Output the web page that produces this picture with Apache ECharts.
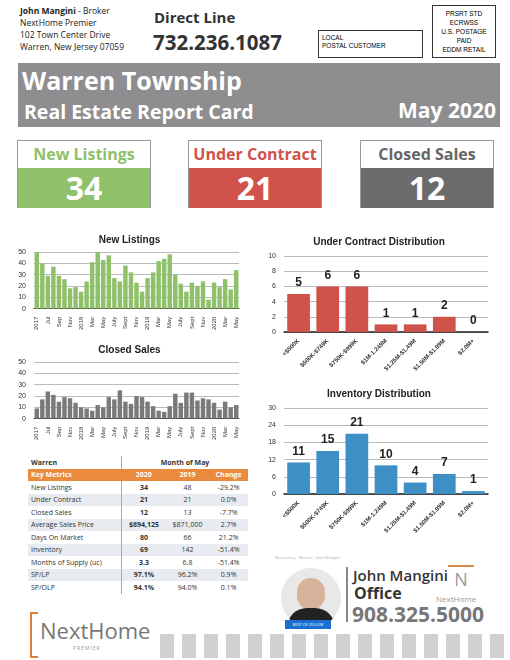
<!DOCTYPE html>
<html><head><meta charset="utf-8">
<script src="https://cdn.jsdelivr.net/npm/echarts@6/dist/echarts.min.js"></script>
<style>
body{margin:0;width:510px;height:660px;position:relative;font-family:"Open Sans",sans-serif;background:#fff;overflow:hidden}
.a{position:absolute}
.box{position:absolute;width:134px;height:68px;top:140px;border:1px solid #999;box-sizing:border-box}
.box .t{height:27px;background:#fff;text-align:center;font-size:16px;font-weight:700;line-height:27px}
.box .n{height:40px;color:#fff;text-align:center;font-size:32px;font-weight:700;line-height:40px}
table{border-collapse:collapse;font-size:7px;width:220px}
td{padding:0 3px;height:12.5px;color:#333}
</style></head><body>
<div class="a" style="left:20px;top:5px;font-size:8.5px;line-height:12px;color:#222"><b>John Mangini</b> - Broker<br>NextHome Premier<br>102 Town Center Drive<br>Warren, New Jersey 07059</div>
<div class="a" style="left:154px;top:7px;font-size:15px;font-weight:700;color:#333">Direct Line</div>
<div class="a" style="left:153px;top:28px;font-size:20.5px;font-weight:700;color:#333">732.236.1087</div>
<div class="a" style="left:318px;top:30px;width:105px;height:28px;border:1px solid #333;font-size:6.5px;font-family:Arial,sans-serif;padding:3px;box-sizing:border-box;line-height:8px">LOCAL<br>POSTAL CUSTOMER</div>
<div class="a" style="left:432px;top:5px;width:64px;height:53px;border:1px solid #333;font-size:6.5px;font-family:Arial,sans-serif;text-align:center;padding-top:3px;box-sizing:border-box;line-height:9px">PRSRT STD<br>ECRWSS<br>U.S. POSTAGE<br>PAID<br>EDDM RETAIL</div>
<div class="a" style="left:18px;top:63px;width:482px;height:64px;background:#8e8e90"></div>
<div class="a" style="left:22px;top:63px;font-size:25px;font-weight:700;color:#fff">Warren Township</div>
<div class="a" style="left:24px;top:98px;font-size:19.5px;font-weight:700;color:#fff">Real Estate Report Card</div>
<div class="a" style="left:398px;top:96px;font-size:21px;font-weight:700;color:#fff">May 2020</div>
<div class="box" style="left:17px"><div class="t" style="color:#8fc06a">New Listings</div><div class="n" style="background:#8fc06a">34</div></div>
<div class="box" style="left:188px"><div class="t" style="color:#cf524b">Under Contract</div><div class="n" style="background:#cf524b">21</div></div>
<div class="box" style="left:360px"><div class="t" style="color:#666">Closed Sales</div><div class="n" style="background:#6b6b6b">12</div></div>
<div id="c1" class="a" style="left:12px;top:228px;width:235px;height:105px"></div>
<div id="c2" class="a" style="left:12px;top:338px;width:235px;height:105px"></div>
<div id="c3" class="a" style="left:248px;top:230px;width:262px;height:150px"></div>
<div id="c4" class="a" style="left:248px;top:382px;width:262px;height:160px"></div>
<div class="a" style="left:28px;top:456px"><table id="tb"></table></div>
<div class="a" style="left:275px;top:555px;font-size:4px;color:#aaa">New Jersey · Warren · John Mangini</div>
<div class="a" style="left:281px;top:568px;width:60px;height:60px;border-radius:30px;background:#e8e8e8;overflow:hidden"><div style="position:absolute;left:16px;top:10px;width:28px;height:32px;border-radius:14px;background:#d8b29a"></div><div style="position:absolute;left:6px;top:40px;width:48px;height:30px;border-radius:20px 20px 0 0;background:#222"></div></div>
<div class="a" style="left:285px;top:620px;width:46px;height:9px;background:#1a6fd1;color:#fff;font-size:4px;line-height:9px;text-align:center">BEST OF ZILLOW</div>
<div class="a" style="left:346px;top:567px;width:2px;height:55px;background:#888"></div>
<div class="a" style="left:353px;top:565px;font-size:15px;font-weight:600;color:#333">John Mangini</div>
<div class="a" style="left:354px;top:582px;font-size:16px;font-weight:700;color:#333">Office</div>
<div class="a" style="left:352px;top:600px;font-size:21px;font-weight:700;color:#777">908.325.5000</div>
<div class="a" style="left:448px;top:565px;width:26px;height:26px;color:#999;font-size:18px;text-align:center;border-top:2px solid #d98b4b">N</div>
<div class="a" style="left:436px;top:593px;font-size:8px;color:#999">NextHome</div>
<div class="a" style="left:30px;top:612px;width:6px;height:42px;border:2px solid #e07d3a;border-right:none"></div>
<div class="a" style="left:40px;top:615px;font-size:22px;color:#777">NextHome</div>
<div class="a" style="left:73px;top:645px;font-size:5px;color:#999;letter-spacing:1px">PREMIER</div>
<div class="a" style="left:160px;top:634px;width:350px;height:24px;background:repeating-linear-gradient(90deg,#d0d0d0 0 14px,#fff 14px 22px)"></div>
<script>
const months=['2017','Jun','Jul','Aug','Sep','Oct','Nov','Dec','2018','Feb','Mar','Apr','May','Jun','July','Aug','Sept','Oct','Nov','Dec','2019','Feb','Mar','Apr','May','Jun','July','Aug','Sept','Oct','Nov','Dec','2020','Feb','Mar','Apr','May'];
const newListings=[50,40,29,37,29,26,18,19,15,24,41,50,43,47,27,24,38,32,23,15,27,32,42,44,48,30,22,15,23,20,24,8,23,19,26,17,34];
const closedSales=[9,17,24,21,15,19,18,14,10,9,7,12,10,19,17,25,15,13,20,19,15,11,7,6,11,22,14,23,23,16,18,17,14,8,15,10,12];
const priceCats=['<$500K','$500K-$749K','$750K-$999K','$1M-1.249M','$1.25M-$1.49M','$1.50M-$1.99M','$2.0M+'];
const underContract=[5,6,6,1,1,2,0];
const inventory=[11,15,21,10,4,7,1];
const tableRows=[['New Listings','34','48','-29.2%'],['Under Contract','21','21','0.0%'],['Closed Sales','12','13','-7.7%'],['Average Sales Price','$894,125','$871,000','2.7%'],['Days On Market','80','66','21.2%'],['Inventory','69','142','-51.4%'],['Months of Supply (uc)','3.3','6.8','-51.4%'],['SP/LP','97.1%','96.2%','0.9%'],['SP/OLP','94.1%','94.0%','0.1%']];
function small(id,title,data,color){
 echarts.init(document.getElementById(id)).setOption({animation:false,
  title:{text:title,left:'center',top:2,textStyle:{fontSize:10,fontWeight:'bold',color:'#222'}},
  grid:{left:22,right:8,top:24,bottom:24},
  xAxis:{type:'category',data:months,axisTick:{show:false},axisLine:{lineStyle:{color:'#333'}},axisLabel:{rotate:90,fontSize:6,interval:1,color:'#333'}},
  yAxis:{min:0,max:50,interval:10,axisLabel:{fontSize:7,color:'#333'},splitLine:{lineStyle:{color:'#bbb'}}},
  series:[{type:'bar',data:data,barCategoryGap:'20%',itemStyle:{color:color}}]});
}
small('c1','New Listings',newListings,'#8fc06a');
small('c2','Closed Sales',closedSales,'#7a7a7a');
function dist(id,title,data,color,max,iv){
 echarts.init(document.getElementById(id)).setOption({animation:false,
  title:{text:title,left:'center',top:2,textStyle:{fontSize:10,fontWeight:'bold',color:'#222'}},
  grid:{left:36,right:22,top:26,bottom:48},
  xAxis:{type:'category',data:priceCats,axisTick:{show:false},axisLine:{lineStyle:{color:'#222',width:1.5}},axisLabel:{rotate:45,fontSize:6,interval:0,color:'#333',fontWeight:'bold'}},
  yAxis:{min:0,max:max,interval:iv,axisLabel:{fontSize:7,color:'#333'},splitLine:{lineStyle:{color:'#bbb'}}},
  series:[{type:'bar',data:data,barCategoryGap:'22%',itemStyle:{color:color},label:{show:true,position:'top',fontSize:12,fontWeight:'bold',color:'#222'}}]});
}
dist('c3','Under Contract Distribution',underContract,'#cf524b',10,2);
dist('c4','Inventory Distribution',inventory,'#3d8fc6',30,6);
let h='<tr><td style="font-weight:bold">Warren</td><td colspan="3" style="text-align:center;font-weight:bold;border-left:1px solid #aaa">Month of May</td></tr>';
h+='<tr style="background:#e98a3c;color:#fff;font-weight:bold"><td style="color:#fff">Key Metrics</td><td style="color:#fff;text-align:center">2020</td><td style="color:#fff;text-align:center">2019</td><td style="color:#fff;text-align:center">Change</td></tr>';
tableRows.forEach((r,i)=>{h+='<tr style="background:'+(i%2?'#e8ecf0':'#fff')+'"><td>'+r[0]+'</td><td style="text-align:center;font-weight:bold;border-left:1px solid #aaa">'+r[1]+'</td><td style="text-align:center">'+r[2]+'</td><td style="text-align:center">'+r[3]+'</td></tr>';});
document.getElementById('tb').innerHTML=h;
</script></body></html>
